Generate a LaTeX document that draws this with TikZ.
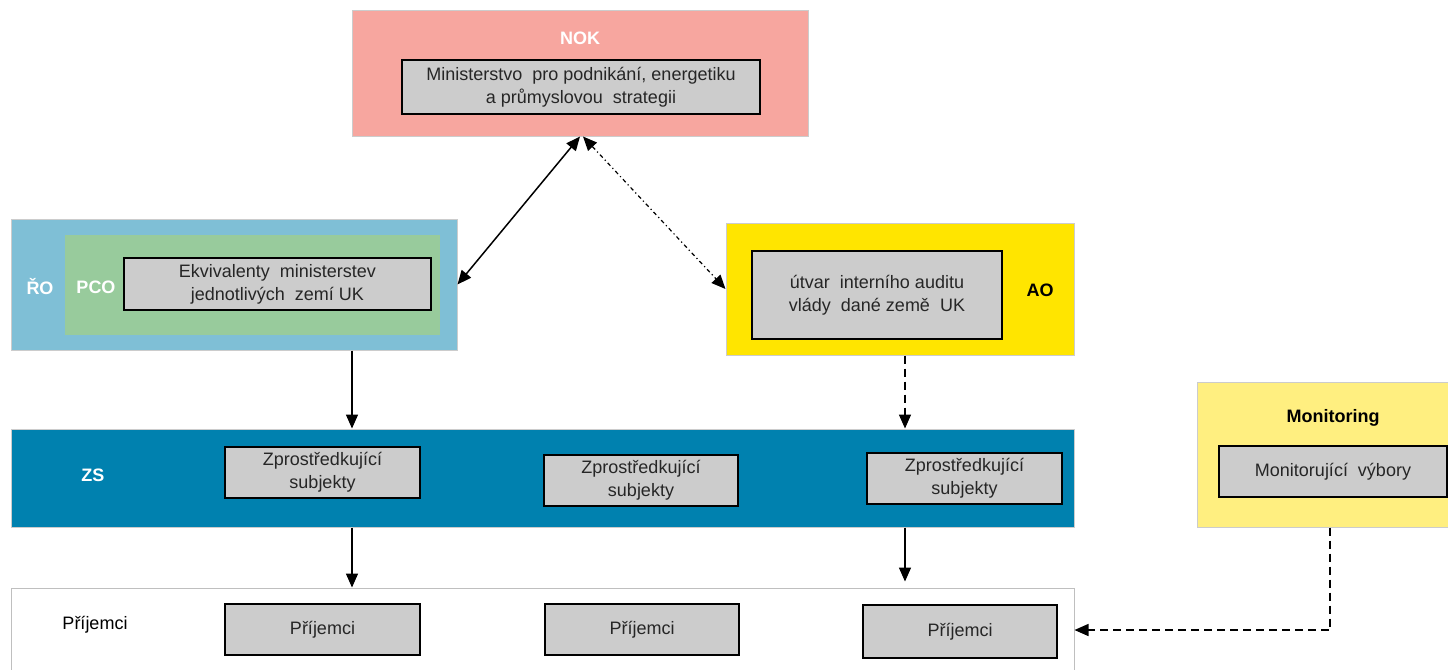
\documentclass[tikz,border=0pt]{standalone}
\usepackage{fontspec}
\setmainfont{Liberation Sans}
\usepackage{xcolor}
\usetikzlibrary{arrows.meta}
\definecolor{nokred}{HTML}{F7A69F}
\definecolor{roblue}{HTML}{7FBFD6}
\definecolor{pcogreen}{HTML}{98CB9C}
\definecolor{aoyellow}{HTML}{FFE500}
\definecolor{monyellow}{HTML}{FFEF80}
\definecolor{zsblue}{HTML}{0081AF}
\definecolor{boxgrey}{HTML}{CCCCCC}

\begin{document}
\begin{tikzpicture}[x=0.5pt,y=-0.5pt,
 band/.style={draw=black!20,line width=0.5pt,inner sep=0pt},
 box/.style={draw,line width=1pt,fill=boxgrey,align=center,inner sep=0pt,
   text=black!85,font=\fontsize{9}{11.5}\selectfont},
 lbl/.style={font=\fontsize{9}{11.5}\selectfont\bfseries,text=white},
 arr/.style={-{Triangle[length=7pt,width=6pt]},line width=0.75pt},
 dbl/.style={{Triangle[length=7pt,width=6pt]}-{Triangle[length=7pt,width=6pt]},line width=0.75pt}]
\useasboundingbox (0,0) rectangle (1448,670);
% bands
\node[band,fill=nokred,minimum width=228pt,minimum height=63pt] (nok) at (580,73) {};
\node[band,fill=roblue,minimum width=223pt,minimum height=65.5pt] (ro) at (234,284.5) {};
\node[band,draw=none,fill=pcogreen,minimum width=187.5pt,minimum height=50pt] (pco) at (252.5,285) {};
\node[band,fill=aoyellow,minimum width=174pt,minimum height=66pt] (ao) at (900,289) {};
\node[band,fill=monyellow,minimum width=126.5pt,minimum height=72.5pt] (mon) at (1323.5,454.5) {};
\node[band,fill=zsblue,minimum width=531.5pt,minimum height=49pt] (zs) at (542.5,478) {};
\node[band,draw=black!25,fill=white,minimum width=531.5pt,minimum height=42pt] (prij) at (542.5,630) {};
% labels
\node[lbl] (noklbl) at (580,38) {NOK};
\node[lbl] (rolbl) at (40,287) {ŘO};
\node[lbl] (pcolbl) at (96,287) {PCO};
\node[lbl,text=black] (aolbl) at (1040,290) {AO};
\node[lbl,text=black] (monlbl) at (1333,418) {Monitoring};
\node[lbl] (zslbl) at (93,475) {ZS};
\node[font=\fontsize{9}{11.5}\selectfont] (prijlbl) at (95,625) {Příjemci};
% boxes
\node[box,minimum width=179pt,minimum height=27pt] (mpo) at (581,87)
  {Ministerstvo\ \ pro podnikání, energetiku\\a průmyslovou\ \ strategii};
\node[box,minimum width=153.5pt,minimum height=26pt] (ekv) at (277.5,284)
  {Ekvivalenty\ \ ministerstev\\jednotlivých\ \ zemí UK};
\node[box,minimum width=125pt,minimum height=44pt] (audit) at (877,295)
  {útvar\ \ interního auditu\\vlády\ \ dané země\ \ UK};
\node[box,minimum width=114pt,minimum height=25.5pt] (vybory) at (1333,471.5) {Monitorující\ \ výbory};
\node[box,minimum width=97.5pt,minimum height=25.5pt] (zs1) at (322.5,472.5) {Zprostředkující\\subjekty};
\node[box,minimum width=97pt,minimum height=25.5pt] (zs2) at (641,480.5) {Zprostředkující\\subjekty};
\node[box,minimum width=97.5pt,minimum height=25.5pt] (zs3) at (964.5,478.5) {Zprostředkující\\subjekty};
\node[box,minimum width=97.5pt,minimum height=25.5pt] (p1) at (322.5,629.5) {Příjemci};
\node[box,minimum width=97pt,minimum height=25.5pt] (p2) at (642,629.5) {Příjemci};
\node[box,minimum width=97pt,minimum height=26.5pt] (p3) at (960,631.5) {Příjemci};
% connectors
\coordinate (colL) at (352,0);
\coordinate (colR) at (905,0);
\draw[dbl] (nok.south) -- (ro.east);
\draw[dbl,line width=0.6pt,dash pattern=on 2pt off 1.5pt on 0.6pt off 1.5pt] ([xshift=1.5pt]nok.south) -- (ao.west);
\draw[arr] (ro.south -| colL) -- (zs.north -| colL);
\draw[arr,dashed,dash pattern=on 4pt off 2.5pt] (ao.south -| colR) -- (zs.north -| colR);
\draw[arr] (zs.south -| colL) -- (prij.north -| colL);
\draw[arr] (zs.south -| colR) -- ([yshift=3pt]prij.north -| colR);
\draw[arr,dash pattern=on 4pt off 2.5pt] (mon.south -| 1330,0) |- (prij.east);
\end{tikzpicture}
\end{document}
